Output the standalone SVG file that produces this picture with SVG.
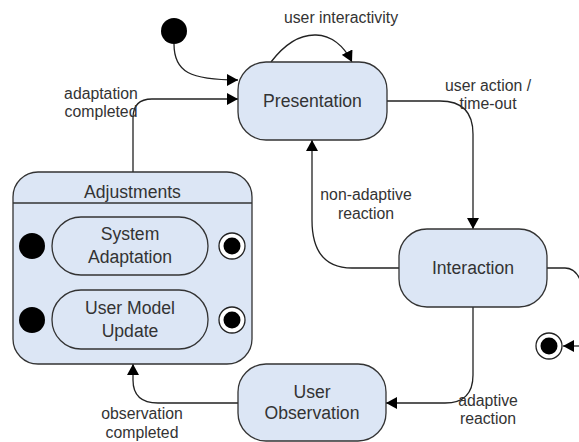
<svg xmlns="http://www.w3.org/2000/svg" width="579" height="442" viewBox="0 0 579 442">
<style>
.node{fill:#dce6f5;stroke:#333;stroke-width:1.3}
.nt{font-family:"Liberation Sans",Arial,sans-serif;font-size:17.6px;fill:#333;text-anchor:middle}
.lb{font-family:"Liberation Sans",Arial,sans-serif;font-size:15.8px;fill:#333;text-anchor:middle}
.edge{fill:none;stroke:#222;stroke-width:1.3}
.init{fill:#000}
.fo{fill:#fff;stroke:#222;stroke-width:1.3}
</style>
<defs>
<marker id="arr" markerWidth="12" markerHeight="12" refX="11" refY="6" orient="auto" markerUnits="userSpaceOnUse">
<path d="M0,0 L11,6 L0,12 Z" fill="#000"/>
</marker>
</defs>
<rect width="579" height="442" fill="#fff"/>
<g id="connectors">
<path class="edge" d="M174,44 C174,72 190,80 238,80" marker-end="url(#arr)"/>
<path class="edge" d="M271,62 C300,24 335,28 352,62" marker-end="url(#arr)"/>
<path class="edge" d="M133,172 L133,118 Q133,99 152,99 L238,99" marker-end="url(#arr)"/>
<path class="edge" d="M387,101 L440,101 Q473,101 473,134 L473,229" marker-end="url(#arr)"/>
<path class="edge" d="M399,268 L352,268 Q312,268 312,220 L312,140" marker-end="url(#arr)"/>
<path class="edge" d="M547,268 L565,268 Q577,268 582,285"/>
<path class="edge" d="M582,346 L563,346" marker-end="url(#arr)"/>
<path class="edge" d="M473,307 L473,375 Q473,403 445,403 L386,403" marker-end="url(#arr)"/>
<path class="edge" d="M238,403 L158,403 Q133,403 133,380 L133,364" marker-end="url(#arr)"/>
<path class="edge" d="M45,246 L52,246 M45,320 L52,320 M208,246 L219,246 M208,320 L219,320"/>
</g>
<g id="start">
<circle class="init" cx="174" cy="31" r="13"/>
</g>
<g id="presentation">
<rect class="node" x="238" y="62" width="149" height="78" rx="28"/>
<text class="nt" x="312.5" y="107">Presentation</text>
</g>
<g id="interaction">
<rect class="node" x="399" y="229" width="148" height="78" rx="28"/>
<text class="nt" x="473" y="274">Interaction</text>
</g>
<g id="user-observation">
<rect class="node" x="238" y="364" width="148" height="77" rx="28"/>
<text class="nt" x="312" y="398">User</text>
<text class="nt" x="312" y="419">Observation</text>
</g>
<g id="adjustments">
<rect class="node" x="13" y="172" width="239" height="192" rx="25"/>
<line x1="13" y1="203" x2="252" y2="203" stroke="#333" stroke-width="1.3"/>
<text class="nt" x="132.5" y="198">Adjustments</text>
</g>
<g id="system-adaptation">
<rect class="node" x="52" y="217" width="156" height="58" rx="29"/>
<text class="nt" x="130" y="240">System</text>
<text class="nt" x="130" y="263">Adaptation</text>
</g>
<g id="user-model-update">
<rect class="node" x="52" y="290" width="156" height="59" rx="29"/>
<text class="nt" x="130" y="314">User Model</text>
<text class="nt" x="130" y="337">Update</text>
</g>
<g id="sa-start"><circle class="init" cx="32" cy="246" r="13"/></g>
<g id="umu-start"><circle class="init" cx="32" cy="320" r="13"/></g>
<g id="sa-end"><circle class="fo" cx="232" cy="246" r="13"/><circle class="init" cx="232" cy="246" r="8.5"/></g>
<g id="umu-end"><circle class="fo" cx="232" cy="320" r="13"/><circle class="init" cx="232" cy="320" r="8.5"/></g>
<g id="final"><circle class="fo" cx="549" cy="346" r="13"/><circle class="init" cx="549" cy="346" r="8.5"/></g>
<g id="labels">
<text class="lb" x="341" y="23">user interactivity</text>
<text class="lb" x="101" y="99">adaptation</text>
<text class="lb" x="101" y="117">completed</text>
<text class="lb" x="488" y="91">user action /</text>
<text class="lb" x="488" y="109">time-out</text>
<text class="lb" x="366" y="200">non-adaptive</text>
<text class="lb" x="366" y="219">reaction</text>
<text class="lb" x="488" y="406">adaptive</text>
<text class="lb" x="488" y="424">reaction</text>
<text class="lb" x="142" y="419">observation</text>
<text class="lb" x="142" y="438">completed</text>
</g>
</svg>
